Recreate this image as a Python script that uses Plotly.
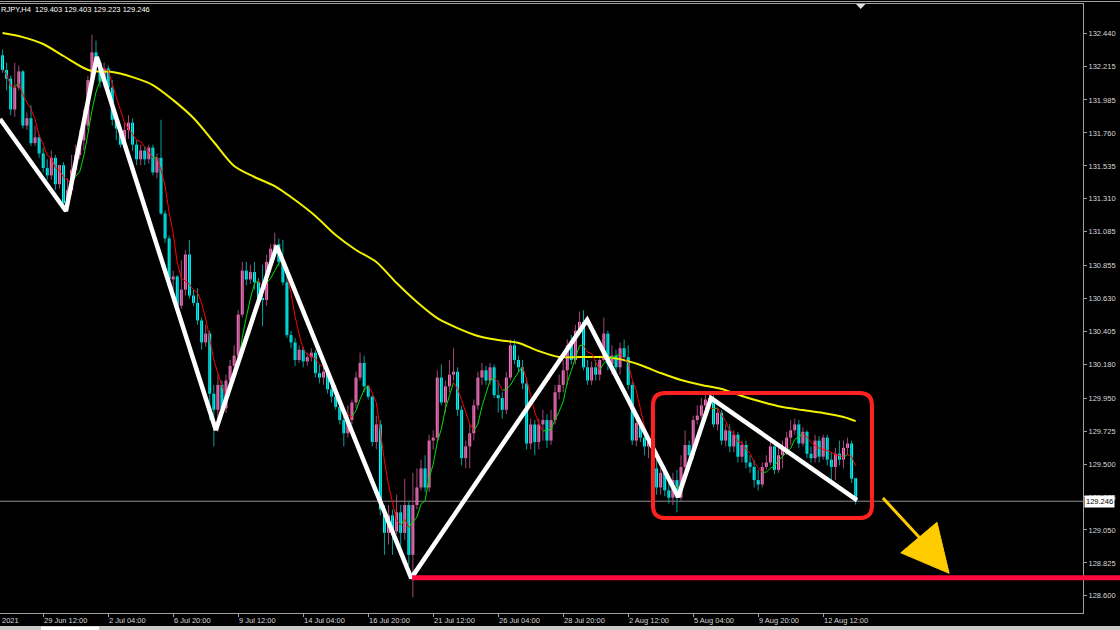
import plotly.graph_objects as go
import pandas as pd

# ---------------- data (H4 bars, bar 0 = 29 Jun 12:00) ----------------
bars = list(range(-10, 201))

opens = [
    132.29, 132.19, 132.13, 131.92, 132.07, 132.18, 131.81, 131.86, 131.69, 131.73,
    131.62, 131.52, 131.47, 131.59, 131.41, 131.54, 131.28, 131.37, 131.51, 131.61,
    131.71, 131.81, 132.12, 132.31, 132.24, 132.11, 132.20, 132.07, 131.85, 131.79,
    131.68, 131.78, 131.83, 131.68, 131.58, 131.64, 131.58, 131.66, 131.49, 131.59,
    131.21, 131.04, 130.76, 130.78, 130.58, 130.69, 130.93, 130.65, 130.60, 130.48,
    130.33, 130.39, 129.98, 129.87, 130.04, 129.88, 130.07, 130.17, 130.24, 130.52,
    130.82, 130.76, 130.81, 130.74, 130.63, 130.62, 130.88, 130.97, 131.00, 130.88,
    130.74, 130.38, 130.33, 130.21, 130.28, 130.20, 130.23, 130.26, 130.12, 130.09,
    130.13, 130.01, 129.96, 129.89, 129.80, 129.71, 129.80, 129.92, 130.09, 130.19,
    130.03, 129.96, 129.65, 129.77, 129.19, 129.03, 129.15, 129.04, 129.17, 129.03,
    129.22, 128.88, 129.22, 129.34, 129.47, 129.34, 129.66, 129.68, 130.09, 129.92,
    130.03, 130.11, 130.13, 129.87, 129.54, 129.62, 129.71, 129.90, 130.09, 130.14,
    130.07, 130.16, 129.97, 129.95, 129.87, 130.09, 130.31, 130.21, 130.16, 130.05,
    129.64, 129.77, 129.65, 129.77, 129.80, 129.66, 129.80, 129.99, 130.04, 130.14,
    130.31, 130.21, 130.41, 130.47, 130.16, 130.07, 130.16, 130.11, 130.21, 130.39,
    130.18, 130.24, 130.16, 130.29, 130.23, 130.04, 129.66, 129.78, 129.68, 129.62,
    129.66, 129.47, 129.34, 129.44, 129.32, 129.27, 129.39, 129.27, 129.48, 129.63,
    129.56, 129.80, 129.83, 129.90, 129.94, 129.95, 129.77, 129.85, 129.66, 129.73,
    129.62, 129.70, 129.55, 129.63, 129.51, 129.48, 129.39, 129.36, 129.48, 129.51,
    129.62, 129.46, 129.56, 129.60, 129.68, 129.73, 129.77, 129.64, 129.72, 129.57,
    129.54, 129.66, 129.55, 129.68, 129.53, 129.48, 129.57, 129.53, 129.61, 129.64,
    129.403,
]
highs = [
    132.33, 132.24, 132.15, 132.24, 132.22, 132.19, 131.90, 131.95, 131.81, 131.75,
    131.66, 131.58, 131.64, 131.61, 131.54, 131.56, 131.45, 131.61, 131.68, 131.78,
    131.92, 132.15, 132.43, 132.39, 132.26, 132.24, 132.22, 132.12, 131.88, 131.81,
    131.83, 131.88, 131.86, 131.71, 131.68, 131.67, 131.68, 131.68, 131.62, 131.85,
    131.23, 131.06, 130.82, 130.79, 130.89, 130.96, 131.03, 130.69, 130.70, 130.50,
    130.45, 130.41, 130.04, 130.11, 130.07, 130.11, 130.21, 130.31, 130.55, 130.88,
    130.88, 130.86, 130.88, 130.77, 130.86, 130.93, 131.00, 131.08, 131.04, 131.03,
    130.84, 130.41, 130.36, 130.31, 130.30, 130.26, 130.29, 130.28, 130.18, 130.21,
    130.16, 130.05, 130.04, 129.94, 129.83, 129.90, 129.94, 130.13, 130.26, 130.24,
    130.04, 129.97, 129.83, 129.80, 129.22, 129.22, 129.19, 129.29, 129.22, 129.40,
    129.25, 129.44, 129.47, 129.53, 129.56, 129.70, 129.73, 130.14, 130.18, 130.07,
    130.21, 130.29, 130.16, 129.90, 129.66, 129.77, 129.94, 130.13, 130.19, 130.17,
    130.19, 130.18, 130.07, 129.99, 130.13, 130.35, 130.35, 130.24, 130.21, 130.09,
    129.81, 129.80, 129.81, 129.87, 129.84, 129.87, 130.04, 130.11, 130.21, 130.35,
    130.38, 130.45, 130.54, 130.55, 130.21, 130.20, 130.21, 130.24, 130.50, 130.41,
    130.31, 130.28, 130.33, 130.35, 130.31, 130.06, 129.81, 129.80, 129.73, 129.70,
    129.69, 129.53, 129.47, 129.49, 129.39, 129.44, 129.46, 129.56, 129.73, 129.66,
    129.83, 129.90, 129.95, 130.00, 129.98, 129.97, 129.88, 129.87, 129.77, 129.77,
    129.73, 129.72, 129.66, 129.66, 129.56, 129.53, 129.46, 129.51, 129.56, 129.65,
    129.64, 129.61, 129.66, 129.72, 129.80, 129.81, 129.80, 129.75, 129.73, 129.62,
    129.70, 129.69, 129.70, 129.70, 129.58, 129.61, 129.66, 129.66, 129.68, 129.66,
    129.403,
]
lows = [
    132.17, 132.05, 131.88, 131.87, 132.05, 131.79, 131.78, 131.67, 131.67, 131.59,
    131.49, 131.44, 131.44, 131.37, 131.38, 131.25, 131.25, 131.34, 131.47, 131.58,
    131.64, 131.78, 132.11, 132.20, 132.07, 132.07, 132.00, 131.81, 131.71, 131.66,
    131.66, 131.72, 131.64, 131.54, 131.54, 131.54, 131.55, 131.47, 131.45, 131.20,
    131.01, 130.74, 130.69, 130.56, 130.56, 130.65, 130.63, 130.58, 130.45, 130.28,
    130.30, 129.80, 129.62, 129.72, 129.83, 129.85, 130.04, 130.11, 130.21, 130.50,
    130.72, 130.73, 130.69, 130.58, 130.44, 130.58, 130.84, 130.93, 130.85, 130.72,
    130.36, 130.29, 130.17, 130.19, 130.16, 130.17, 130.20, 130.09, 130.05, 130.04,
    129.98, 129.92, 129.87, 129.77, 129.62, 129.68, 129.77, 129.88, 130.07, 129.99,
    129.94, 129.62, 129.60, 129.15, 128.88, 128.95, 128.88, 129.02, 128.91, 128.98,
    128.81, 128.59, 129.19, 129.32, 129.31, 129.31, 129.60, 129.65, 129.90, 129.85,
    129.99, 130.07, 129.83, 129.49, 129.47, 129.47, 129.66, 129.87, 130.04, 130.04,
    130.04, 129.95, 129.85, 129.81, 129.84, 130.07, 130.18, 130.13, 130.01, 129.60,
    129.60, 129.56, 129.60, 129.66, 129.61, 129.63, 129.77, 129.94, 129.99, 130.04,
    130.18, 130.18, 130.38, 130.14, 130.04, 130.04, 130.07, 130.07, 130.20, 130.14,
    130.11, 130.13, 130.11, 130.20, 130.01, 129.63, 129.62, 129.65, 129.56, 129.54,
    129.42, 129.29, 129.29, 129.28, 129.23, 129.22, 129.17, 129.25, 129.44, 129.51,
    129.53, 129.77, 129.81, 129.87, 129.90, 129.75, 129.73, 129.63, 129.62, 129.58,
    129.58, 129.51, 129.51, 129.47, 129.44, 129.34, 129.32, 129.34, 129.46, 129.49,
    129.43, 129.44, 129.47, 129.56, 129.63, 129.70, 129.61, 129.62, 129.54, 129.51,
    129.51, 129.51, 129.53, 129.49, 129.36, 129.39, 129.49, 129.47, 129.56, 129.37,
    129.223,
]
closes = [
    132.19, 132.13, 131.92, 132.07, 132.18, 131.81, 131.86, 131.69, 131.73, 131.62,
    131.52, 131.47, 131.59, 131.41, 131.54, 131.28, 131.37, 131.51, 131.61, 131.71,
    131.81, 132.12, 132.31, 132.24, 132.11, 132.20, 132.07, 131.85, 131.79, 131.68,
    131.78, 131.83, 131.68, 131.58, 131.64, 131.58, 131.66, 131.49, 131.59, 131.21,
    131.04, 130.76, 130.78, 130.58, 130.69, 130.93, 130.65, 130.60, 130.48, 130.33,
    130.39, 129.98, 129.87, 130.04, 129.88, 130.07, 130.17, 130.24, 130.52, 130.82,
    130.76, 130.81, 130.74, 130.63, 130.62, 130.88, 130.97, 131.00, 130.88, 130.74,
    130.38, 130.33, 130.21, 130.28, 130.20, 130.23, 130.26, 130.12, 130.09, 130.13,
    130.01, 129.96, 129.89, 129.80, 129.71, 129.80, 129.92, 130.09, 130.19, 130.03,
    129.96, 129.65, 129.77, 129.19, 129.03, 129.15, 129.04, 129.17, 129.03, 129.22,
    128.88, 129.22, 129.34, 129.47, 129.34, 129.66, 129.68, 130.09, 129.92, 130.03,
    130.11, 130.13, 129.87, 129.54, 129.62, 129.71, 129.90, 130.09, 130.14, 130.07,
    130.16, 129.97, 129.95, 129.87, 130.09, 130.31, 130.21, 130.16, 130.05, 129.64,
    129.77, 129.65, 129.77, 129.80, 129.66, 129.80, 129.99, 130.04, 130.14, 130.31,
    130.21, 130.41, 130.47, 130.16, 130.07, 130.16, 130.11, 130.21, 130.39, 130.18,
    130.24, 130.16, 130.29, 130.23, 130.04, 129.66, 129.78, 129.68, 129.62, 129.66,
    129.47, 129.34, 129.44, 129.32, 129.27, 129.39, 129.27, 129.48, 129.63, 129.56,
    129.80, 129.83, 129.90, 129.94, 129.95, 129.77, 129.85, 129.66, 129.73, 129.62,
    129.70, 129.55, 129.63, 129.51, 129.48, 129.39, 129.36, 129.48, 129.51, 129.62,
    129.46, 129.56, 129.60, 129.68, 129.73, 129.77, 129.64, 129.72, 129.57, 129.54,
    129.66, 129.55, 129.68, 129.53, 129.48, 129.57, 129.53, 129.61, 129.64, 129.40,
    129.246,
]

tick_bars = [0, 16, 32, 48, 64, 80, 96, 112, 128, 144, 160, 176, 192]
tick_labels = ["29 Jun 12:00", "2 Jul 04:00", "6 Jul 20:00", "9 Jul 12:00", "14 Jul 04:00",
               "16 Jul 20:00", "21 Jul 12:00", "26 Jul 04:00", "28 Jul 20:00", "2 Aug 12:00",
               "5 Aug 04:00", "9 Aug 20:00", "12 Aug 12:00"]
price_ticks = [132.440, 132.215, 131.985, 131.760, 131.535, 131.310, 131.085, 130.855, 130.630,
               130.405, 130.180, 129.950, 129.725, 129.500, 129.275, 129.050, 128.825, 128.600]

slow_ma_bars = [-10, -5, 0, 5, 10, 12, 17, 22, 27, 32, 37, 42, 47, 52, 57, 62, 67, 72, 77, 82,
                87, 92, 97, 102, 107, 112, 117, 122, 127, 132, 137, 142, 147, 152, 157, 162,
                167, 172, 177, 182, 187, 192, 197, 200]
slow_ma_vals = [132.442, 132.414, 132.367, 132.285, 132.203, 132.182, 132.176, 132.141, 132.087,
                131.984, 131.862, 131.698, 131.534, 131.459, 131.397, 131.302, 131.193, 131.063,
                130.961, 130.879, 130.735, 130.606, 130.496, 130.428, 130.374, 130.346, 130.326,
                130.271, 130.230, 130.230, 130.230, 130.216, 130.176, 130.121, 130.073, 130.039,
                130.012, 129.964, 129.923, 129.889, 129.868, 129.848, 129.821, 129.793]

zigzag_bars = [-10.63, 5.6, 13.2, 42.5, 57.5, 90.6, 133.9, 156.3, 164.4, 200.3]
zigzag_prices = [131.855, 131.227, 132.278, 129.732, 130.988, 128.721, 130.483, 129.275, 129.950, 129.254]

symbol_text = "RJPY,H4\u00a0\u00a0129.403 129.403 129.223 129.246"
last_price = 129.246
support_level = 128.724
support_start_bar = 90.8
box_bars = (150.1, 204.0)
box_prices = (129.131, 129.984)
arrow_tail = (206.7, 129.268)
arrow_neck = (215.8, 128.995)
arrow_head = [(211.1, 128.894), (220.0, 129.102), (223.0, 128.754)]

# ---------------- styling ----------------
X_RANGE = [-10.63, 255.95]
Y_RANGE = [128.483, 132.640]
BULL = "#ff78c8"
BEAR = "#00ffff"
BULL_WICK = "#a04878"
BEAR_WICK = "#00a0a0"
FONT = "Liberation Sans"
FS = 7.5
W, H = 1120, 630
ML, MR, MT, MB = 0, 37, 4, 17
PW = W - ML - MR
PH = H - MT - MB

def xpaper(b):
    return (b - X_RANGE[0]) / (X_RANGE[1] - X_RANGE[0])

fig = go.Figure()

# wicks
for is_bull, col in ((True, BULL_WICK), (False, BEAR_WICK)):
    wx, wy = [], []
    for b, o, h, l, c in zip(bars, opens, highs, lows, closes):
        if (c >= o) == is_bull:
            wx += [b, b, None]
            wy += [l, h, None]
    fig.add_trace(go.Scatter(x=wx, y=wy, mode="lines", line=dict(color=col, width=1),
                             hoverinfo="skip"))

# bodies
for is_bull, col in ((True, BULL), (False, BEAR)):
    bx, base, hgt = [], [], []
    for b, o, c in zip(bars, opens, closes):
        if (c >= o) == is_bull:
            bx.append(b)
            base.append(min(o, c))
            hgt.append(max(abs(c - o), 0.005))
    fig.add_trace(go.Bar(x=bx, y=hgt, base=base, width=0.72, marker=dict(color=col, line=dict(width=0)),
                         hoverinfo="skip"))

# slow MA (yellow)
fig.add_trace(go.Scatter(x=slow_ma_bars, y=slow_ma_vals, mode="lines",
                         line=dict(color="#f2f200", width=2, shape="spline", smoothing=0.8),
                         hoverinfo="skip"))

# fast MA coloured by slope
ma = pd.Series(closes).rolling(5, min_periods=1).mean().tolist()
ux, uy, dx, dy = [], [], [], []
for k in range(1, len(bars)):
    if ma[k] >= ma[k - 1]:
        ux += [bars[k - 1], bars[k], None]; uy += [ma[k - 1], ma[k], None]
    else:
        dx += [bars[k - 1], bars[k], None]; dy += [ma[k - 1], ma[k], None]
fig.add_trace(go.Scatter(x=ux, y=uy, mode="lines", line=dict(color="#00e000", width=1), hoverinfo="skip"))
fig.add_trace(go.Scatter(x=dx, y=dy, mode="lines", line=dict(color="#ff0000", width=1), hoverinfo="skip"))

# zigzag
fig.add_trace(go.Scatter(x=zigzag_bars, y=zigzag_prices, mode="lines",
                         line=dict(color="#ffffff", width=4.5), hoverinfo="skip"))

shapes = []
# current price line
shapes.append(dict(type="line", xref="paper", yref="y", x0=0, x1=1, y0=last_price, y1=last_price,
                   line=dict(color="#909090", width=1), layer="below"))
# support line (extends into the price scale)
shapes.append(dict(type="line", xref="paper", yref="y", x0=xpaper(support_start_bar), x1=W / PW,
                   y0=support_level, y1=support_level, line=dict(color="#ff0a3c", width=5)))
# rounded box
x0, x1 = box_bars
y0, y1 = box_prices
rx, ry = 3.0, 0.085
path = (f"M {x0+rx},{y1} L {x1-rx},{y1} Q {x1},{y1} {x1},{y1-ry} L {x1},{y0+ry} "
        f"Q {x1},{y0} {x1-rx},{y0} L {x0+rx},{y0} Q {x0},{y0} {x0},{y0+ry} "
        f"L {x0},{y1-ry} Q {x0},{y1} {x0+rx},{y1} Z")
shapes.append(dict(type="path", xref="x", yref="y", path=path, line=dict(color="#ff2020", width=4)))
# arrow
shapes.append(dict(type="line", xref="x", yref="y", x0=arrow_tail[0], y0=arrow_tail[1],
                   x1=arrow_neck[0], y1=arrow_neck[1], line=dict(color="#ffcc00", width=3)))
tri = "M " + " L ".join(f"{a},{b}" for a, b in arrow_head) + " Z"
shapes.append(dict(type="path", xref="x", yref="y", path=tri, fillcolor="#ffcc00",
                   line=dict(color="#ffcc00", width=1)))
# chart-shift marker
shapes.append(dict(type="path", xref="paper", yref="paper",
                   path=f"M {856/PW},1 L {865.5/PW},1 L {860.7/PW},{1-5/PH} Z",
                   fillcolor="#e0e0e0", line=dict(width=0)))
# bottom tab strip
shapes.append(dict(type="rect", xref="paper", yref="paper", x0=0, x1=W / PW,
                   y0=-(H - (H - MB)) / PH - 0.01, y1=-(626 - (H - MB)) / PH,
                   fillcolor="#c8c8c8", line=dict(width=0)))
shapes.append(dict(type="rect", xref="paper", yref="paper", x0=41 / PW, x1=99 / PW,
                   y0=-(H - (H - MB)) / PH - 0.01, y1=-(626.5 - (H - MB)) / PH,
                   fillcolor="#ffffff", line=dict(width=0)))
# top window strip
shapes.append(dict(type="line", xref="paper", yref="paper", x0=0, x1=W / PW,
                   y0=1 + 2.5 / PH, y1=1 + 2.5 / PH, line=dict(color="#a0a0a0", width=1)))

annotations = []
for b, t in zip(tick_bars, tick_labels):
    annotations.append(dict(x=b, xref="x", y=0, yref="paper", text=t, showarrow=False,
                            xanchor="left", yanchor="top", xshift=-1, yshift=-1,
                            font=dict(family=FONT, size=FS, color="#d8d8d8")))
annotations.append(dict(x=0, xref="paper", y=0, yref="paper", text="2021", showarrow=False,
                        xanchor="left", yanchor="top", xshift=0, yshift=-1,
                        font=dict(family=FONT, size=FS, color="#d8d8d8")))
annotations.append(dict(x=0, xref="paper", y=1, yref="paper", text=symbol_text, showarrow=False,
                        xanchor="left", yanchor="top", xshift=-1, yshift=1,
                        font=dict(family=FONT, size=FS, color="#ffffff")))
annotations.append(dict(x=1, xref="paper", y=last_price, yref="y", text=f"{last_price:.3f}",
                        showarrow=False, xanchor="left", yanchor="middle", xshift=1,
                        bgcolor="#ffffff", borderpad=1,
                        font=dict(family=FONT, size=FS, color="#000000")))

fig.update_layout(
    width=W, height=H,
    paper_bgcolor="#000000", plot_bgcolor="#000000",
    margin=dict(l=ML, r=MR, t=MT, b=MB, pad=0, autoexpand=False),
    showlegend=False, barmode="overlay", hovermode=False,
    shapes=shapes, annotations=annotations,
    xaxis=dict(range=X_RANGE, showgrid=False, zeroline=False, tickvals=tick_bars,
               showticklabels=False, ticks="outside", ticklen=3, tickcolor="#a0a0a0",
               showline=True, mirror=True, linecolor="#a0a0a0", linewidth=1, automargin=False),
    yaxis=dict(range=Y_RANGE, side="right", showgrid=False, zeroline=False,
               tickvals=price_ticks, ticktext=[f"{v:.3f}" for v in price_ticks],
               ticks="outside", ticklen=3, tickcolor="#a0a0a0",
               tickfont=dict(family=FONT, size=FS, color="#d8d8d8"),
               showline=True, linecolor="#a0a0a0", linewidth=1, automargin=False),
)

fig.write_html("out.html", config={"displayModeBar": False},
               post_script="document.body.style.margin='0px';document.body.style.overflow='hidden';"
                           "document.body.style.background='#000000';")
